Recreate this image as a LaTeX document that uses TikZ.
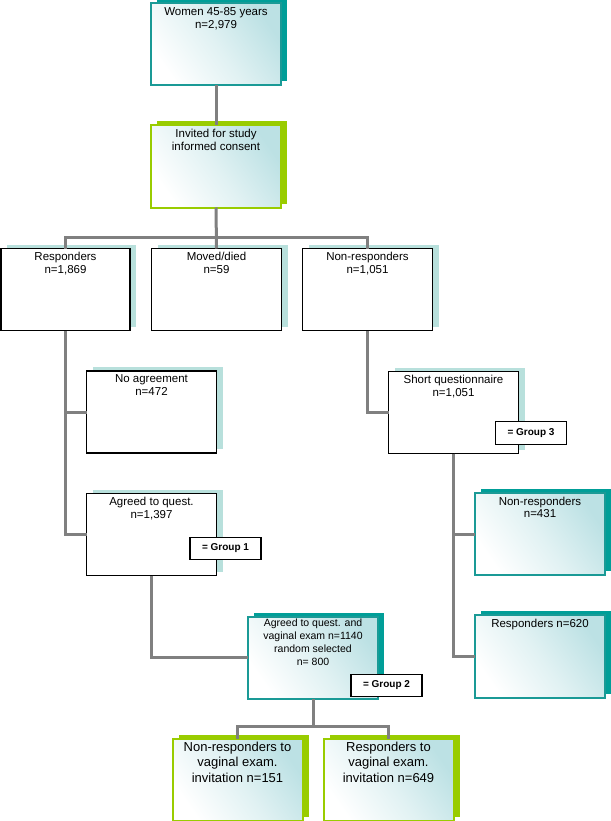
\documentclass[tikz,border=0pt]{standalone}
\usepackage{fontspec}
\setmainfont{Liberation Sans}
\usetikzlibrary{shadows}
\definecolor{tealD}{HTML}{009E98}
\definecolor{tealB}{HTML}{1A9A96}
\definecolor{tealL}{HTML}{BCE1E4}
\definecolor{tealS}{HTML}{B8E0DC}
\definecolor{grnD}{HTML}{99CC00}
\definecolor{conn}{HTML}{808080}
\tikzset{
  box/.style={rectangle, minimum width=130pt, minimum height=82pt, inner sep=0pt, outer sep=0pt},
  gradfill/.style={shading=axis, top color=tealL, bottom color=white, middle color=tealL!45!white, shading angle=-55},
  tealbox/.style={box, draw=tealB, line width=2pt, gradfill,
    general shadow={fill=tealD, shadow xshift=6pt, shadow yshift=4pt}},
  greenbox/.style={box, draw=grnD, line width=2pt, gradfill,
    general shadow={fill=grnD, shadow xshift=6pt, shadow yshift=4pt}},
  plainbox/.style={box, draw=black, line width=1.4pt, fill=white,
    general shadow={fill=tealS, shadow xshift=6pt, shadow yshift=4pt}},
  grpbox/.style={rectangle, draw=black, line width=1.2pt, fill=white, minimum width=71pt, minimum height=22.5pt,
    inner sep=0pt, font=\fontsize{10}{12}\selectfont\bfseries},
  txt/.style={anchor=north, align=center, inner sep=3.5pt, font=\fontsize{11.5}{12.8}\selectfont},
  link/.style={draw=conn, line width=3pt},
}
\begin{document}
\begin{tikzpicture}[x=1pt, y=-1pt]
\useasboundingbox (0,0) rectangle (610,821);

\coordinate (bar1) at (216,237);
\coordinate (bar2) at (313,726);

\node[tealbox, label={[txt]north:Women 45-85 years\\n=2,979}] (women) at (216,44.5) {};
\node[greenbox, label={[txt]north:Invited for study\\informed consent}] (invited) at (216,166.5) {};

\node[plainbox, minimum width=129pt, label={[txt]north:Responders\\n=1,869}] (resp) at (65.5,289.5) {};
\node[plainbox, label={[txt]north:Moved/died\\n=59}] (moved) at (216.5,289.5) {};
\node[plainbox, label={[txt]north:Non-responders\\n=1,051}] (nonresp) at (367.5,289.5) {};

\node[plainbox, label={[txt]north:No agreement\\n=472}] (noagree) at (151.5,412) {};
\node[plainbox, label={[txt]north:Short questionnaire\\n=1,051}] (short) at (453.5,412.5) {};

\node[plainbox, label={[txt]north:Agreed to quest.\\n=1,397}] (agreed) at (151.5,534.5) {};

\node[tealbox, label={[txt, inner sep=2pt, font=\fontsize{10.5}{13}\selectfont]north:Agreed to quest. and\\vaginal exam n=1140\\random selected\\n= 800}] (agreed2) at (313,657.5) {};

\node[tealbox, label={[txt]north:Non-responders\\n=431}] (rnonresp) at (540,534) {};
\node[tealbox, minimum height=83pt, label={[txt]north:Responders n=620}] (rresp) at (540,656.5) {};

\node[greenbox, label={[txt, inner sep=3pt, font=\fontsize{13}{15.8}\selectfont]north:Non-responders to\\vaginal exam.\\invitation n=151}] (bl) at (237.5,779.5) {};
\node[greenbox, label={[txt, inner sep=3pt, font=\fontsize{13}{15.8}\selectfont]north:Responders to\\vaginal exam.\\invitation n=649}] (br) at (388.5,779.5) {};

% connectors
\path[link] (women.south) -- (invited.north);
\path[link] (invited.south) -- (moved.north);
\path[link] (resp.north) |- (bar1) -| (nonresp.north);
\path[link] (resp.south) |- (agreed.west);
\path[link] (resp.south |- noagree.west) -- (noagree.west);
\path[link] (nonresp.south) |- (short.west);
\path[link] (agreed.south) |- (agreed2.west);
\path[link] (short.south) |- (rnonresp.west);
\path[link] (short.south) |- (rresp.west);
\path[link] (agreed2.south) -- (bar2);
\path[link] (bl.north) |- (bar2) -| (br.north);

% group labels
\node[grpbox] (g1) at (225.5,548.5) {= Group 1};
\node[grpbox] (g3) at (531,433) {= Group 3};
\node[grpbox] (g2) at (386.5,685.5) {= Group 2};
\end{tikzpicture}
\end{document}
